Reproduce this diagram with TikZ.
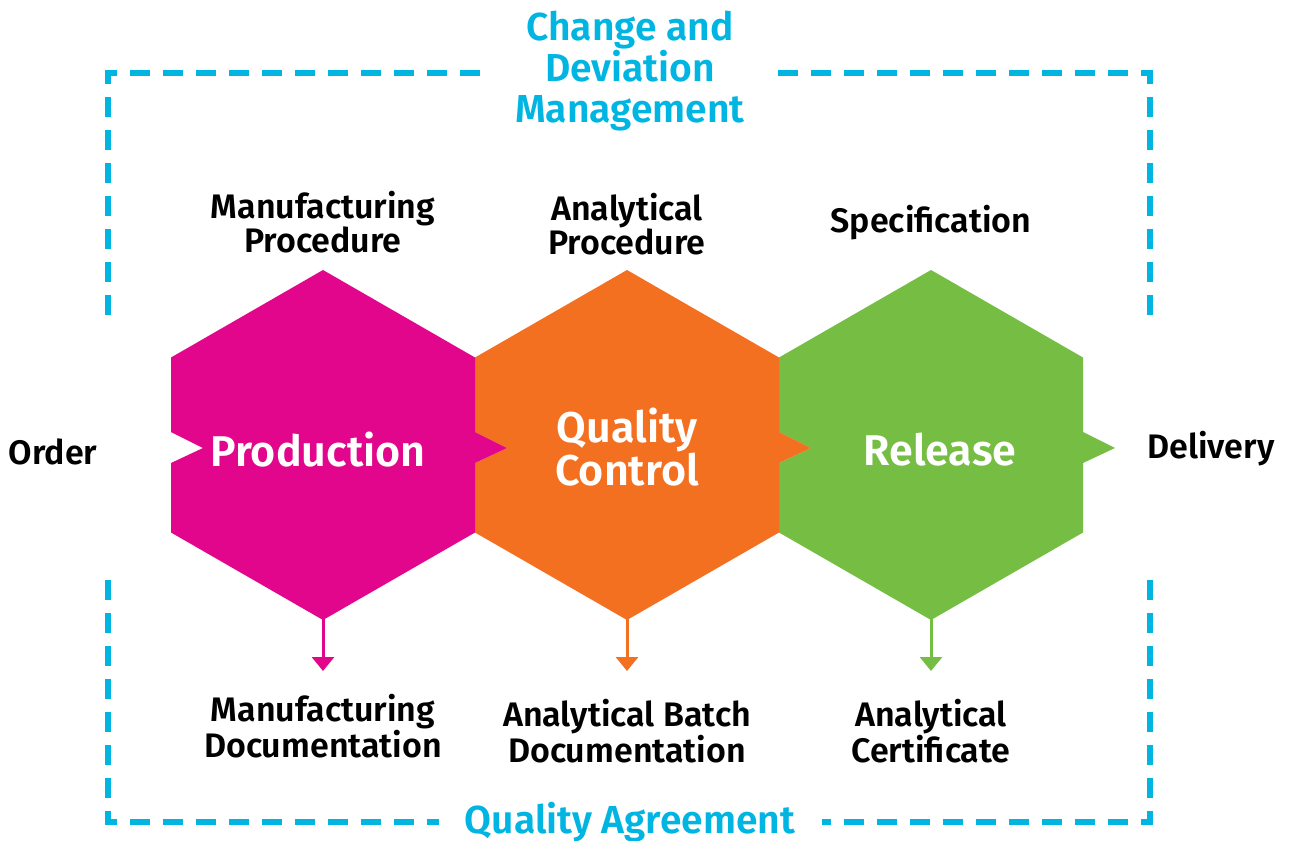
\documentclass[tikz,border=0pt]{standalone}
\usepackage{fontspec}
\setmainfont{Fira Sans}[BoldFont={Fira Sans SemiBold}]
\usetikzlibrary{arrows.meta}
\definecolor{pinkc}{HTML}{E2068C}
\definecolor{orangec}{HTML}{F37021}
\definecolor{greenc}{HTML}{76BE43}
\definecolor{bluec}{HTML}{00B5E2}
\tikzset{
  lbl/.style={font=\fontsize{34}{31.5}\selectfont\bfseries, align=center, inner sep=0pt, text=black},
  hexlbl/.style={font=\fontsize{43}{41}\selectfont\bfseries, align=center, inner sep=0pt, text=white},
  ttl/.style={font=\fontsize{39}{41}\selectfont\bfseries, align=center, inner sep=0pt, text=bluec},
  dashline/.style={draw=bluec, line width=6pt, dash pattern=on 20pt off 13pt},
  outarrow/.style={line width=3pt, -{Triangle[width=22pt,length=14pt]}}
}
\newcommand\hexagonpath{(0,-175) -- (152,-87.5) -- (152,-13) -- (184,3) -- (152,18) -- (152,87.5) -- (0,175) -- (-152,87.5) -- (-152,18) -- (-120,3) -- (-152,-13) -- (-152,-87.5) -- cycle}
\begin{document}
\begin{tikzpicture}[x=1pt,y=-1pt]
\useasboundingbox (0,0) rectangle (1289,840);

% dashed frame
\draw[dashline] (108,315) -- (108,73) -- (486,73);
\draw[dashline] (1150,315) -- (1150,73) -- (773,73);
\draw[dashline] (108,580) -- (108,822) -- (439,822);
\draw[dashline] (1150,580) -- (1150,822) -- (822,822);

% hexagon centres
\coordinate (cP) at (323,445);
\coordinate (cQ) at (627,445);
\coordinate (cR) at (931,445);

\fill[greenc, shift={(cR)}] \hexagonpath;
\fill[orangec, shift={(cQ)}] \hexagonpath;
\fill[pinkc, shift={(cP)}] \hexagonpath;

% bottom tips and arrow ends
\coordinate (bP) at (323,619);
\coordinate (bQ) at (627,619);
\coordinate (bR) at (931,619);
\coordinate (eP) at (323,671);
\coordinate (eQ) at (627,671);
\coordinate (eR) at (931,671);
\draw[outarrow, pinkc] (bP) -- (eP);
\draw[outarrow, orangec] (bQ) -- (eQ);
\draw[outarrow, greenc] (bR) -- (eR);

% hexagon labels
\node[hexlbl] (prod) at (318,450) {Production};
\node[hexlbl] (qc) at (627,447) {Quality\\Control};
\node[hexlbl] (rel) at (940,450) {Release};

% top labels
\node[lbl] (mp) at (323,222) {Manufacturing\\Procedure};
\node[lbl] (ap) at (627,224) {Analytical\\Procedure};
\node[lbl] (spec) at (931,223) {Specification};

% bottom labels
\node[lbl] (md) at (323,726) {Manufacturing\\Documentation};
\node[lbl] (abd) at (627,731) {Analytical Batch\\Documentation};
\node[lbl] (ac) at (931,731) {Analytical\\Certificate};

% side labels
\node[lbl] (order) at (53,452) {Order};
\node[lbl] (deliv) at (1211,449) {Delivery};

% titles
\node[ttl] (cdm) at (630,71) {Change and\\Deviation\\Management};
\node[ttl, anchor=base] (qa) at (630,833) {Quality Agreement};
\end{tikzpicture}
\end{document}
